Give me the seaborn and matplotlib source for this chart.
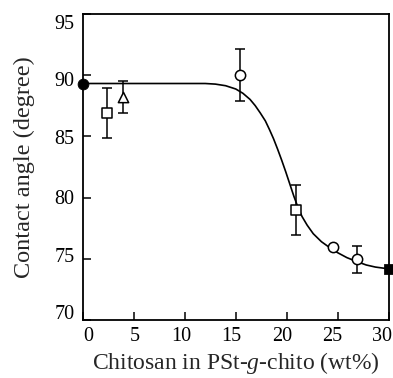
import numpy as np
import pandas as pd
import matplotlib
matplotlib.use('Agg')
import matplotlib.pyplot as plt
from matplotlib.transforms import ScaledTranslation
import seaborn as sns

# fitted curve
curve_x = [0, 5, 10, 12.0, 13.0, 14.0, 15.0, 15.7, 16.4, 16.9, 17.4, 17.9, 18.3, 18.7,
           19.1, 19.5, 19.9, 20.3, 20.7, 21.1, 21.5, 22.0, 22.6, 23.4, 24.24, 25.0,
           25.9, 26.8, 27.8, 28.7, 29.5, 30]
curve_y = [89.3, 89.3, 89.3, 89.3, 89.25, 89.12, 88.85, 88.5, 88.0, 87.5, 86.9, 86.25,
           85.55, 84.8, 83.95, 83.05, 82.1, 81.1, 80.1, 79.2, 78.45, 77.75, 77.05, 76.4,
           75.9, 75.5, 75.1, 74.8, 74.5, 74.33, 74.24, 74.2]

# measured points
circ_x = [15.4, 24.5, 26.85]
circ_y = [90.0, 75.95, 74.97]
circ_err = [2.1, 0.0, 1.1]

sq_x = [2.4, 20.9]
sq_y = [86.9, 79.0]
sq_err = [2.05, 2.05]

tri_x = [3.95]
tri_y = [88.2]
tri_err = [1.3]

fcirc_x = [0]
fcirc_y = [89.3]
fsq_x = [30]
fsq_y = [74.2]

xticks = [0, 5, 10, 15, 20, 25, 30]
yticks = [70, 75, 80, 85, 90, 95]

sns.set_style('ticks')
plt.rcParams['font.family'] = ['Liberation Serif', 'DejaVu Serif']
plt.rcParams['mathtext.fontset'] = 'custom'
plt.rcParams['mathtext.it'] = 'Liberation Serif:italic'
plt.rcParams['mathtext.rm'] = 'Liberation Serif'

fig = plt.figure(figsize=(3.93, 3.78), dpi=100)
ax = fig.add_axes([0.211, 0.153, 0.778, 0.811])

curve = pd.DataFrame({'x': curve_x, 'y': curve_y})
sns.lineplot(data=curve, x='x', y='y', ax=ax, color='black', linewidth=1.2, zorder=2)

# error bars
for xs, ys, es in [(circ_x, circ_y, circ_err), (sq_x, sq_y, sq_err), (tri_x, tri_y, tri_err)]:
    ax.errorbar(xs, ys, yerr=es, fmt='none', ecolor='black', elinewidth=1.1,
                capsize=3.5, capthick=1.1, zorder=3)

kw = dict(ax=ax, color='white', edgecolor='black', linewidth=1.1, zorder=4, clip_on=False)
sns.scatterplot(x=circ_x, y=circ_y, marker='o', s=55, **kw)
sns.scatterplot(x=sq_x, y=sq_y, marker='s', s=48, **kw)
sns.scatterplot(x=tri_x, y=tri_y, marker='^', s=55, **kw)
sns.scatterplot(x=fcirc_x, y=fcirc_y, marker='o', s=60, color='black', edgecolor='black',
                zorder=5, clip_on=False, ax=ax)
sns.scatterplot(x=fsq_x, y=fsq_y, marker='s', s=48, color='black', edgecolor='black',
                zorder=5, clip_on=False, ax=ax)

ax.set_xlim(0, 30)
ax.set_ylim(70, 95)
ax.set_xticks(xticks)
ax.set_yticks(yticks)
ax.tick_params(direction='in', length=6, width=1.1, labelsize=14.5, colors='black')
ax.tick_params(axis='y', pad=6)
ax.tick_params(axis='x', pad=5)
for s in ax.spines.values():
    s.set_linewidth(1.3)
    s.set_color('black')

# the scanned labels sit a bit off their ticks
x_shift = [5, 1, -4, -4.5, -5, -6, -7]
y_shift = [8, 4, 1, -1, -4, -8]
for lab, d in zip(ax.get_xticklabels(), x_shift):
    lab.set_transform(lab.get_transform() + ScaledTranslation(d / 100, 0, fig.dpi_scale_trans))
for lab, d in zip(ax.get_yticklabels(), y_shift):
    lab.set_transform(lab.get_transform() + ScaledTranslation(0, d / 100, fig.dpi_scale_trans))

ax.set_xlabel('Chitosan in PSt-$\\mathit{g}$-chito (wt%)', fontsize=17, labelpad=3)
ax.set_ylabel('Contact angle (degree)', fontsize=17.5, labelpad=14)

fig.savefig('out.png', dpi=100)
